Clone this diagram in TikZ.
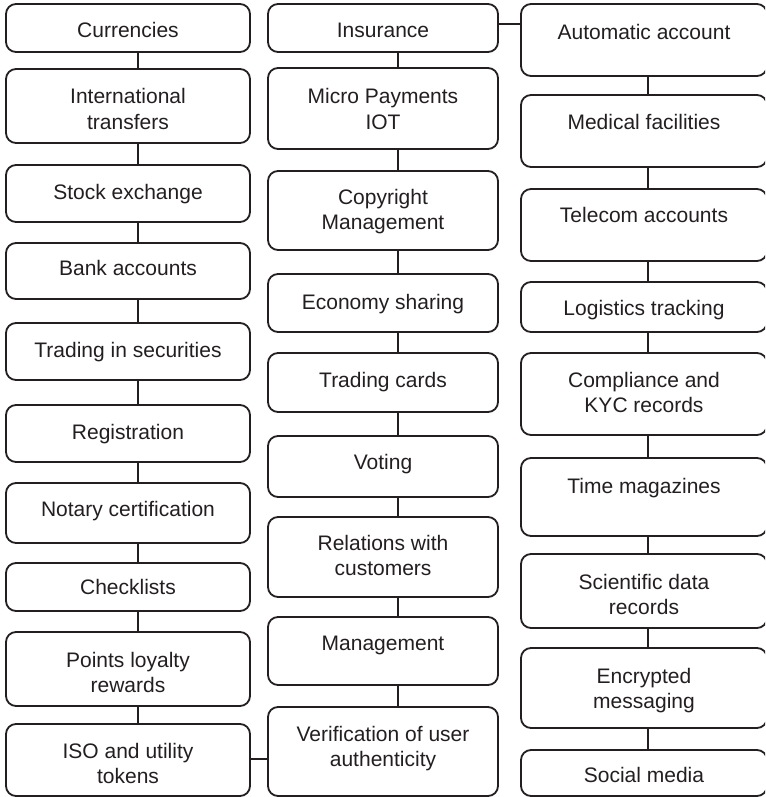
\documentclass[tikz,border=0pt]{standalone}
\usepackage{fontspec}
\setmainfont{Liberation Sans}
\definecolor{ink}{HTML}{231F20}
\tikzset{
  box/.style={draw=ink, line width=1.8pt, rounded corners=10pt, inner sep=0pt, fill=white},
  lbl/.style={font=\fontsize{21}{25}\selectfont, align=center, text=ink, inner sep=0pt},
  conn/.style={draw=ink, line width=1.8pt}
}
% \mkbox{name}{left}{top}{right}{bottom}{text y}{line}
\newcommand\mkbox[7]{%
  \node[box, minimum width={#4pt-#2pt}, minimum height={#5pt-#3pt}]
    (#1) at ({(#2+#4)/2},{(#3+#5)/2}) {};
  \node[lbl] (#1t) at ({(#2+#4)/2},{#6+2.5}) {\strut#7};}
% \mkboxii{name}{left}{top}{right}{bottom}{text y}{line 1}{line 2}
\newcommand\mkboxii[8]{%
  \node[box, minimum width={#4pt-#2pt}, minimum height={#5pt-#3pt}]
    (#1) at ({(#2+#4)/2},{(#3+#5)/2}) {};
  \node[lbl] (#1t) at ({(#2+#4)/2},{#6+2.5}) {\strut#7\\\strut#8};}
\begin{document}
\begin{tikzpicture}[x=1pt, y=-1pt]
\useasboundingbox[fill=white] (0,0) rectangle (765,797);
\clip (0,0) rectangle (765,797);

% left column
\mkbox{c1}{6}{4}{250}{52}{30}{Currencies}
\mkboxii{c2}{6}{69}{250}{143}{109}{International}{transfers}
\mkbox{c3}{6}{165}{250}{222}{192}{Stock exchange}
\mkbox{c4}{6}{243}{250}{299}{268}{Bank accounts}
\mkbox{c5}{6}{323}{250}{380}{350}{Trading in securities}
\mkbox{c6}{6}{405}{250}{462}{432}{Registration}
\mkbox{c7}{6}{483}{250}{543}{509}{Notary certification}
\mkbox{c8}{6}{563}{250}{611}{587}{Checklists}
\mkboxii{c9}{6}{632}{250}{706}{672}{Points loyalty}{rewards}
\mkboxii{c10}{6}{724}{250}{796}{763}{ISO and utility}{tokens}

% middle column
\mkbox{m1}{268}{4}{498}{52}{30}{Insurance}
\mkboxii{m2}{268}{68}{498}{149}{109}{Micro Payments}{IOT}
\mkboxii{m3}{268}{171}{498}{250}{209}{Copyright}{Management}
\mkbox{m4}{268}{274}{498}{332}{302}{Economy sharing}
\mkbox{m5}{268}{353}{498}{412}{380}{Trading cards}
\mkbox{m6}{268}{436}{498}{497}{462}{Voting}
\mkboxii{m7}{268}{517}{498}{597}{555}{Relations with}{customers}
\mkbox{m8}{268}{617}{498}{685}{643}{Management}
\mkboxii{m9}{268}{707}{498}{796}{746}{Verification of user}{authenticity}

% right column
\mkbox{r1}{521}{4}{767}{76}{32}{Automatic account}
\mkbox{r2}{521}{95}{767}{167}{122}{Medical facilities}
\mkbox{r3}{521}{189}{767}{261}{215}{Telecom accounts}
\mkbox{r4}{521}{282}{767}{332}{308}{Logistics tracking}
\mkboxii{r5}{521}{353}{767}{435}{392}{Compliance and}{KYC records}
\mkbox{r6}{521}{458}{767}{536}{486}{Time magazines}
\mkboxii{r7}{521}{554}{767}{628}{594}{Scientific data}{records}
\mkboxii{r8}{521}{648}{767}{728}{688}{Encrypted}{messaging}
\mkbox{r9}{521}{750}{767}{796}{775}{Social media}

% vertical runs of the three chains
\coordinate (k1) at (138,0);
\coordinate (k2) at (398,0);
\coordinate (k3) at (648,0);
\foreach \a/\b in {c1/c2,c2/c3,c3/c4,c4/c5,c5/c6,c6/c7,c7/c8,c8/c9,c9/c10}
  \draw[conn] (\a.south -| k1) -- (\b.north -| k1);
\foreach \a/\b in {m1/m2,m2/m3,m3/m4,m4/m5,m5/m6,m6/m7,m7/m8,m8/m9}
  \draw[conn] (\a.south -| k2) -- (\b.north -| k2);
\foreach \a/\b in {r1/r2,r2/r3,r3/r4,r4/r5,r5/r6,r6/r7,r7/r8,r8/r9}
  \draw[conn] (\a.south -| k3) -- (\b.north -| k3);

% links between the columns
\coordinate (ytop) at (0,24);
\coordinate (ybot) at (0,759);
\draw[conn] (m1.east |- ytop) -- (r1.west |- ytop);
\draw[conn] (c10.east |- ybot) -- (m9.west |- ybot);
\end{tikzpicture}
\end{document}
